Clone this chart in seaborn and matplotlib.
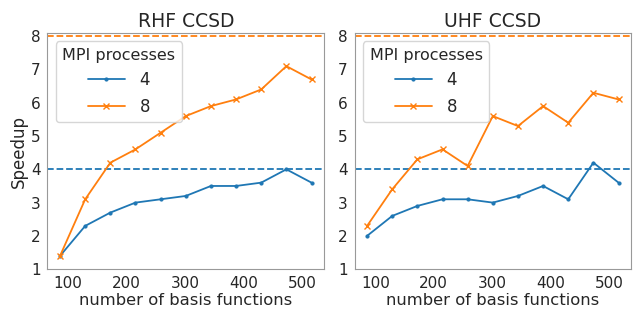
"""
Speedup of CCSD with MPI processes, RHF vs UHF.
"""

import pandas as pd
import matplotlib
matplotlib.use("Agg")
import matplotlib.pyplot as plt
import seaborn as sns


basis_functions = [86, 129, 172, 215, 258, 301, 344, 387, 430, 473, 516]

rhf_4 = [1.4, 2.3, 2.7, 3.0, 3.1, 3.2, 3.5, 3.5, 3.6, 4.0, 3.6]
rhf_8 = [1.4, 3.1, 4.2, 4.6, 5.1, 5.6, 5.9, 6.1, 6.4, 7.1, 6.7]

uhf_4 = [2.0, 2.6, 2.9, 3.1, 3.1, 3.0, 3.2, 3.5, 3.1, 4.2, 3.6]
uhf_8 = [2.3, 3.4, 4.3, 4.6, 4.1, 5.6, 5.3, 5.9, 5.4, 6.3, 6.1]

process_counts = [4, 8]
panel_titles = ["RHF CCSD", "UHF CCSD"]
x_ticks = [100, 200, 300, 400, 500]
y_ticks = [1, 2, 3, 4, 5, 6, 7, 8]


def build_frame(series_4, series_8):
    """
    Long table for one panel.
    """
    rows = []
    for procs, values in zip(process_counts, [series_4, series_8]):
        for nbf, s in zip(basis_functions, values):
            rows.append({"nbf": nbf, "speedup": s, "procs": procs})
    return pd.DataFrame(rows)


def draw_panel(ax, df, title):
    """
    Draw one speedup panel.
    """
    colors = {4: "#1f77b4", 8: "#ff7f0e"}
    styles = {4: dict(marker=".", markersize=4.5),
              8: dict(marker="x", markersize=5, markeredgewidth=1.0)}

    for procs in process_counts:
        sub = df[df["procs"] == procs]
        sns.lineplot(
            data=sub, x="nbf", y="speedup",
            color=colors[procs], label=str(procs),
            linewidth=1.3, markeredgecolor=colors[procs],
            ax=ax, **styles[procs]
        )
        ax.axhline(procs, color=colors[procs], linestyle="--", linewidth=1.3)

    ax.set_title(title, fontsize=13.5, pad=4)
    ax.set_xlabel("number of basis functions", fontsize=11.8, labelpad=1)
    ax.set_ylim(1, 8.1)
    ax.set_xticks(x_ticks)
    ax.set_yticks(y_ticks)
    ax.tick_params(labelsize=11, length=3, color="#999999", pad=2)
    for spine in ax.spines.values():
        spine.set_color("#999999")

    ax.legend(title="MPI processes", loc="upper left",
              fontsize=12, title_fontsize=11.5,
              borderaxespad=0.5, handlelength=2.2,
              handletextpad=0.9, labelspacing=0.5)


if __name__ == "__main__":

    sns.set_style("white")
    plt.rcParams["font.family"] = ["DejaVu Sans"]

    fig, axes = plt.subplots(1, 2, figsize=(6.33, 3.13), dpi=100)

    draw_panel(axes[0], build_frame(rhf_4, rhf_8), panel_titles[0])
    draw_panel(axes[1], build_frame(uhf_4, uhf_8), panel_titles[1])

    axes[0].set_ylabel("Speedup", fontsize=12, labelpad=2)
    axes[1].set_ylabel("")

    fig.subplots_adjust(left=0.075, right=0.997, top=0.895, bottom=0.14,
                        wspace=0.11)

    fig.savefig("out.png", dpi=100)
